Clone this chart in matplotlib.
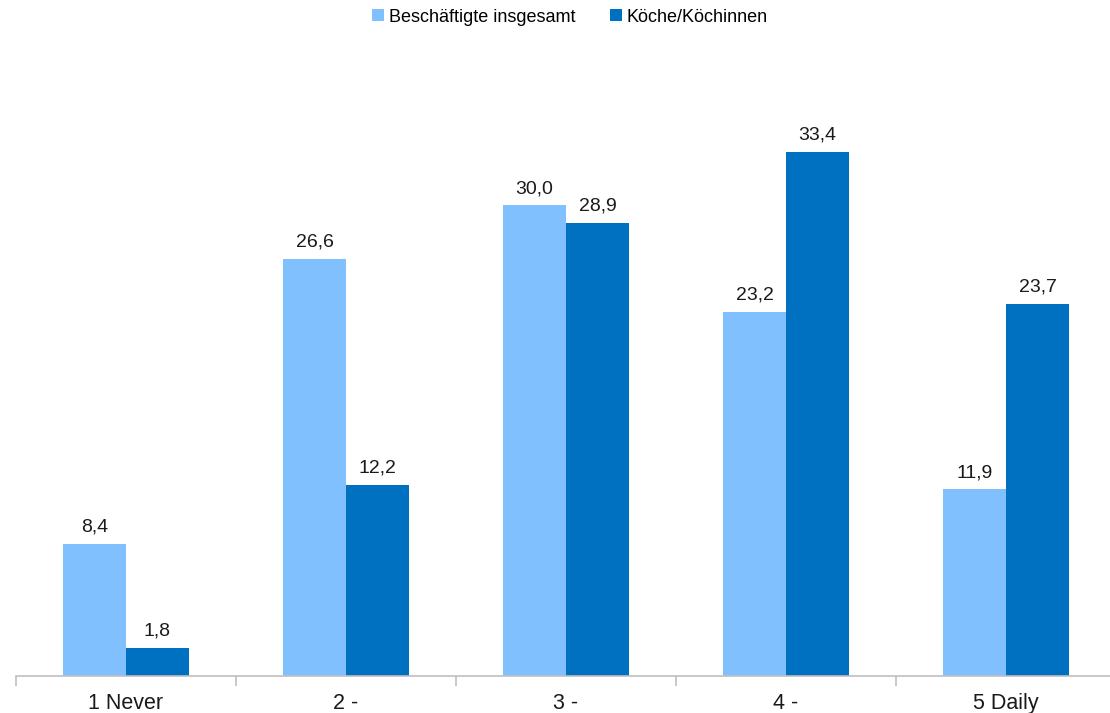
import numpy as np
import matplotlib
matplotlib.use("Agg")
import matplotlib.pyplot as plt

categories = ["1 Never", "2 -", "3 -", "4 -", "5 Daily"]
series_names = ["Beschäftigte insgesamt", "Köche/Köchinnen"]
all_employees = [8.4, 26.6, 30.0, 23.2, 11.9]
cooks = [1.8, 12.2, 28.9, 33.4, 23.7]

light_blue = "#80C0FF"
dark_blue = "#0070C0"

plt.rcParams["font.family"] = ["Liberation Sans", "DejaVu Sans"]

W, H = 1110, 713
fig = plt.figure(figsize=(W / 100, H / 100), dpi=100)
ax = fig.add_axes([16 / W, 1 - 676 / H, 1100 / W, 596 / H])

x = np.arange(len(categories))
width = 0.286

bars1 = ax.bar(x - width / 2, all_employees, width, color=light_blue, label=series_names[0])
bars2 = ax.bar(x + width / 2, cooks, width, color=dark_blue, label=series_names[1])

# value labels above each bar, German decimal comma
for bars, vals in [(bars1, all_employees), (bars2, cooks)]:
    for b, v in zip(bars, vals):
        ax.annotate(f"{v:.1f}".replace(".", ","),
                    (b.get_x() + b.get_width() / 2, v),
                    xytext=(0, 6), textcoords="offset points",
                    ha="center", va="bottom", fontsize=14, color="#1a1a1a")

ax.set_xlim(-0.5, len(categories) - 0.5)
ax.set_ylim(0, 38)

for s in ["top", "right", "left"]:
    ax.spines[s].set_visible(False)
ax.spines["bottom"].set_color("#BFBFBF")
ax.spines["bottom"].set_linewidth(1.2)

ax.set_yticks([])
ax.set_xticks(x)
ax.set_xticklabels(categories, fontsize=15.5, color="#1a1a1a")
ax.tick_params(axis="x", which="major", length=0, pad=12)
ax.set_xticks(np.arange(-0.5, len(categories)), minor=True)
ax.tick_params(axis="x", which="minor", length=7, color="#BFBFBF", width=1.2)

fig.legend(handles=[bars1, bars2], loc="center", bbox_to_anchor=(570 / W, 1 - 17 / H),
           ncol=2, frameon=False, fontsize=13, handlelength=0.65, handleheight=0.65,
           handletextpad=0.3, columnspacing=1.9)

fig.savefig("out.png", dpi=100)
